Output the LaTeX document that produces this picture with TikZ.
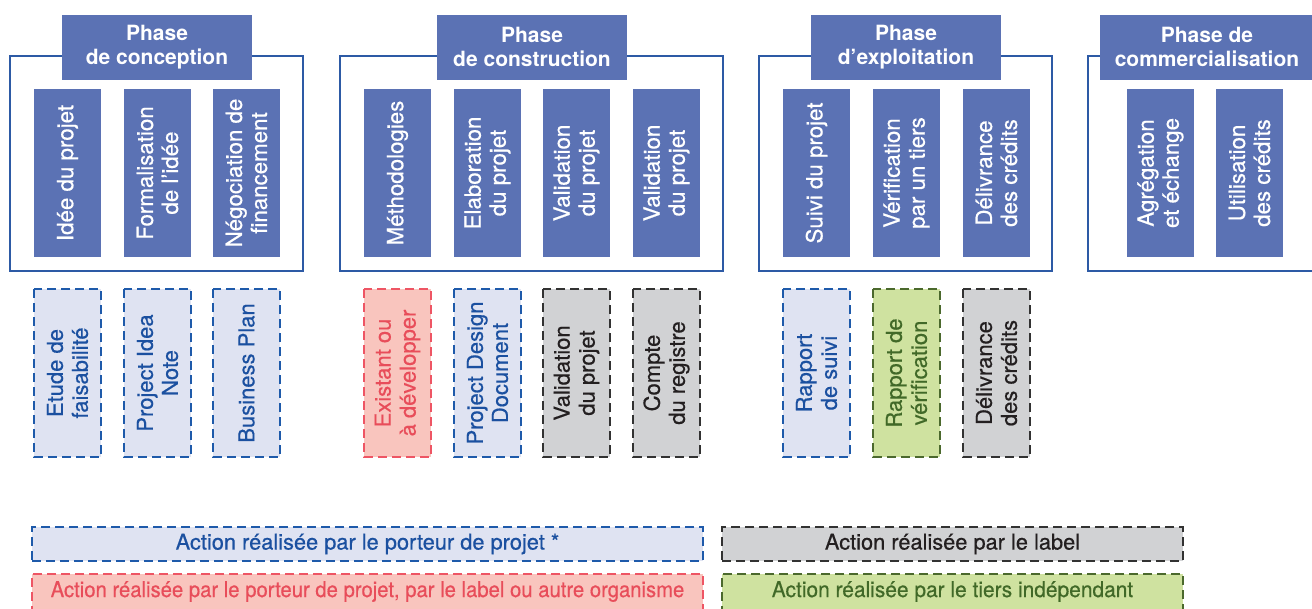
\documentclass[tikz,border=0pt]{standalone}
\usepackage{fontspec}
\setmainfont{TeX Gyre Heros}
\newfontfamily\medfont[FakeBold=0.5]{TeX Gyre Heros}
\definecolor{headblue}{RGB}{91,114,180}
\definecolor{frameblue}{RGB}{45,90,165}
\definecolor{pblue}{RGB}{30,90,170}
\definecolor{pbluefill}{RGB}{223,227,242}
\definecolor{pbluetext}{RGB}{27,80,160}
\definecolor{pred}{RGB}{238,85,100}
\definecolor{predfill}{RGB}{249,197,190}
\definecolor{predtext}{RGB}{232,77,90}
\definecolor{pgray}{RGB}{50,50,50}
\definecolor{pgrayfill}{RGB}{209,210,212}
\definecolor{pgraytext}{RGB}{35,31,32}
\definecolor{pgreen}{RGB}{75,105,45}
\definecolor{pgreenfill}{RGB}{207,226,160}
\definecolor{pgreentext}{RGB}{65,105,40}
\begin{document}
\begin{tikzpicture}[x=1pt,y=-1pt,
  phaseframe/.style={draw=frameblue, line width=1.3pt, fill=white, inner sep=0pt},
  head/.style={fill=headblue, text=white, align=center, inner sep=0pt,
    minimum width=190pt, minimum height=65pt,
    font=\fontsize{21}{24}\selectfont\bfseries},
  stepbox/.style={fill=headblue, text=white, align=center, inner sep=0pt, rotate=90,
    minimum width=168pt, minimum height=67pt,
    font=\medfont\fontsize{22.3}{25}\selectfont},
  docbox/.style={rotate=90, align=center, inner sep=0pt,
    minimum width=168pt, minimum height=67pt, line width=1.6pt,
    dash pattern=on 9pt off 5pt, font=\medfont\fontsize{22}{25}\selectfont},
  porteur/.style={draw=pblue, fill=pbluefill, text=pbluetext},
  mixte/.style={draw=pred, fill=predfill, text=predtext},
  label/.style={draw=pgray, fill=pgrayfill, text=pgraytext},
  tiers/.style={draw=pgreen, fill=pgreenfill, text=pgreentext},
  legendbox/.style={inner sep=0pt, line width=1.6pt, dash pattern=on 9pt off 5pt,
    minimum height=34pt, font=\medfont\fontsize{21.8}{25}\selectfont},
  legendtext/.style={inner sep=0pt, font=\medfont\fontsize{21.8}{25}\selectfont}
]
\useasboundingbox (0,0) rectangle (1312,608);
\clip (0,0) rectangle (1312,608);

% Phase de conception
\node[phaseframe, minimum width=293pt, minimum height=215pt] (f1) at (156.5,163.5) {};
\node[head] (h1) at (157,47) {Phase\\de conception};
\node[stepbox] (c1) at (67.5,173) {Idée du projet};
\node[stepbox] (c2) at (157.5,173) {Formalisation\\de l’idée};
\node[stepbox] (c3) at (246.5,173) {Négociation de\\financement};
\node[docbox, porteur] (d1) at (67.5,373) {Etude de\\faisabilité};
\node[docbox, porteur] (d2) at (157.5,373) {Project Idea\\Note};
\node[docbox, porteur] (d3) at (246.5,373) {Business Plan};

% Phase de construction
\node[phaseframe, minimum width=383pt, minimum height=215pt] (f2) at (531.5,163.5) {};
\node[head] (h2) at (532,47) {Phase\\de construction};
\node[stepbox] (c4) at (397.5,173) {Méthodologies};
\node[stepbox] (c5) at (487.5,173) {Elaboration\\du projet};
\node[stepbox] (c6) at (576.5,173) {Validation\\du projet};
\node[stepbox] (c7) at (666.5,173) {Validation\\du projet};
\node[docbox, mixte] (d4) at (397.5,373) {Existant ou\\à développer};
\node[docbox, porteur] (d5) at (487.5,373) {Project Design\\Document};
\node[docbox, label] (d6) at (576.5,373) {Validation\\du projet};
\node[docbox, label] (d7) at (666.5,373) {Compte\\du registre};

% Phase d'exploitation
\node[phaseframe, minimum width=293pt, minimum height=215pt] (f3) at (905.5,163.5) {};
\node[head] (h3) at (906,47) {Phase\\d’exploitation};
\node[stepbox] (c8) at (816.5,173) {Suivi du projet};
\node[stepbox] (c9) at (906.5,173) {Vérification\\par un tiers};
\node[stepbox] (c10) at (996.5,173) {Délivrance\\des crédits};
\node[docbox, porteur] (d8) at (816.5,373) {Rapport\\de suivi};
\node[docbox, tiers] (d9) at (906.5,373) {Rapport de\\vérification};
\node[docbox, label] (d10) at (996.5,373) {Délivrance\\des crédits};

% Phase de commercialisation
\node[phaseframe, minimum width=250pt, minimum height=215pt] (f4) at (1213,163.5) {};
\node[head, minimum width=214pt] (h4) at (1207,47) {Phase de\\commercialisation};
\node[stepbox] (c11) at (1160.5,173) {Agrégation\\et échange};
\node[stepbox] (c12) at (1249.5,173) {Utilisation\\des crédits};

% Legend
\node[legendbox, porteur, minimum width=671pt] (l1) at (367.5,544) {Action réalisée par le porteur de projet *};
\node[legendbox, mixte, minimum width=671pt, minimum height=40pt] (l2) at (367.5,594) {};
\node[legendtext, text=predtext] (l2t) at (367.5,591.5) {\scalebox{0.93}[1]{Action réalisée par le porteur de projet, par le label ou autre organisme}};
\node[legendbox, label, minimum width=461pt] (l3) at (952.5,544) {Action réalisée par le label};
\node[legendbox, tiers, minimum width=461pt, minimum height=40pt] (l4) at (952.5,594) {};
\node[legendtext, text=pgreentext] (l4t) at (952.5,591.5) {\scalebox{0.96}[1]{Action réalisée par le tiers indépendant}};
\end{tikzpicture}
\end{document}
